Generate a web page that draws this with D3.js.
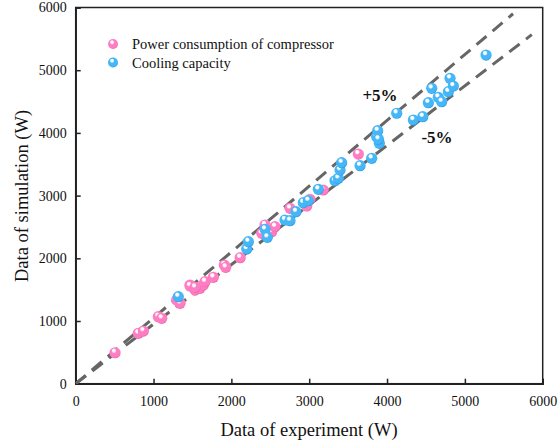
<!DOCTYPE html>
<html><head><meta charset="utf-8">
<script src="https://cdn.jsdelivr.net/npm/d3@7"></script>
<style>body{margin:0;background:#fff}svg{display:block}</style>
</head><body>
<svg id="c" width="560" height="446"></svg>
<script>
const ticks = [0,1000,2000,3000,4000,5000,6000];
const seriesNames = ["Power consumption of compressor","Cooling capacity"];
const powerExp = [505,804,869,1061,1105,1297,1340,1469,1533,1597,1640,1661,1768,1909,1927,2113,2390,2432,2518,2561,2753,2968,3010,3181,3631,1469,1533];
const powerSim = [494,804,840,1069,1043,1335,1282,1574,1494,1521,1574,1627,1697,1893,1856,2010,2399,2531,2424,2504,2797,2834,2941,3089,3663,1558,1537];
const coolExp = [1318,2197,2218,2432,2462,2689,2753,2830,2924,2988,3117,3331,3374,3396,3417,3653,3803,3867,3880,3901,3890,4124,4338,4459,4531,4574,4659,4702,4788,4809,4852,5272];
const coolSim = [1388,2148,2265,2462,2335,2611,2600,2743,2887,2919,3100,3237,3276,3408,3525,3477,3595,3939,4035,3834,3900,4313,4206,4258,4482,4711,4568,4498,4657,4871,4748,5242];
const bandFactors = [1.05, 0.95];
const bandLabels = ["+5%","-5%"];

const FONT = "'Liberation Serif', 'Times New Roman', Times, serif";
const svg = d3.select("#c").style("font-family", FONT);
const m = {l:75.7, r:542.7, t:7.5, b:383.7};
const x = d3.scaleLinear().domain([0,6000]).range([m.l,m.r]);
const y = d3.scaleLinear().domain([0,6000]).range([m.b,m.t]);

const defs = svg.append("defs");
function grad(id, base, dark){
  const g = defs.append("radialGradient").attr("id",id).attr("cx","0.42").attr("cy","0.38").attr("r","0.62").attr("fx","0.4").attr("fy","0.3");
  g.append("stop").attr("offset","0").attr("stop-color","#ffffff");
  g.append("stop").attr("offset","0.2").attr("stop-color","#ffffff").attr("stop-opacity",0.9);
  g.append("stop").attr("offset","0.38").attr("stop-color",base);
  g.append("stop").attr("offset","0.85").attr("stop-color",base);
  g.append("stop").attr("offset","1").attr("stop-color",dark);
}
grad("gp","#ff7ec3","#ea64a5");
grad("gb","#45b6f7","#2e9be0");

// frame
svg.append("rect").attr("x",m.l).attr("y",m.t).attr("width",m.r-m.l).attr("height",m.b-m.t)
  .attr("fill","none").attr("stroke","#222").attr("stroke-width",1.5);

// axes ticks (inward)
const gx = svg.append("g").attr("transform",`translate(0,${m.b})`)
  .call(d3.axisBottom(x).tickValues(ticks).tickSize(-5).tickPadding(12).tickFormat(d3.format("d")));
const gy = svg.append("g").attr("transform",`translate(${m.l},0)`)
  .call(d3.axisLeft(y).tickValues(ticks).tickSize(-5).tickPadding(9).tickFormat(d3.format("d")));
[gx,gy].forEach(g=>{
  g.attr("font-family", null);
  g.select(".domain").attr("stroke","#222").attr("stroke-width",1.5);
  g.selectAll(".tick line").attr("stroke","#222").attr("stroke-width",1.5);
  g.selectAll(".tick text").attr("font-size",14).attr("fill","#111").style("font-family",FONT);
});

// band lines
const clip = defs.append("clipPath").attr("id","cl");
clip.append("rect").attr("x",m.l).attr("y",m.t).attr("width",m.r-m.l).attr("height",m.b-m.t);
const lineG = svg.append("g").attr("clip-path","url(#cl)");
bandFactors.forEach(f=>{
  const xe = Math.min(5860, 5900/f);
  lineG.append("line").attr("x1",x(0)).attr("y1",y(0)).attr("x2",x(xe)).attr("y2",y(xe*f))
    .attr("stroke","#666").attr("stroke-width",3).attr("stroke-dasharray","13,8");
});

// points
const pG = svg.append("g");
pG.selectAll(".p").data(d3.zip(powerExp,powerSim)).join("circle")
  .attr("cx",d=>x(d[0])).attr("cy",d=>y(d[1])).attr("r",5.6).attr("fill","url(#gp)");
pG.selectAll(".b").data(d3.zip(coolExp,coolSim)).join("circle")
  .attr("cx",d=>x(d[0])).attr("cy",d=>y(d[1])).attr("r",5.6).attr("fill","url(#gb)");

// band labels
svg.append("text").attr("x",380).attr("y",101).attr("text-anchor","middle").attr("font-size",17).attr("font-weight","bold").style("font-family",FONT).attr("fill","#111").text(bandLabels[0]);
svg.append("text").attr("x",437).attr("y",143).attr("text-anchor","middle").attr("font-size",17).attr("font-weight","bold").style("font-family",FONT).attr("fill","#111").text(bandLabels[1]);

// legend
const lg = svg.append("g");
["gp","gb"].forEach((g,i)=>{
  lg.append("circle").attr("cx",113).attr("cy",44+i*18.5).attr("r",5).attr("fill",`url(#${g})`);
  lg.append("text").attr("x",132).attr("y",49+i*18.5).attr("font-size",14.5).attr("fill","#111").style("font-family",FONT).text(seriesNames[i]);
});

// axis titles
svg.append("text").attr("x",309).attr("y",436).attr("text-anchor","middle").attr("font-size",18.5).attr("fill","#111").style("font-family",FONT).text("Data of experiment (W)");
svg.append("text").attr("transform","translate(28,196) rotate(-90)").attr("text-anchor","middle").attr("font-size",18.5).attr("fill","#111").style("font-family",FONT).text("Data of simulation (W)");
</script>
</body></html>
